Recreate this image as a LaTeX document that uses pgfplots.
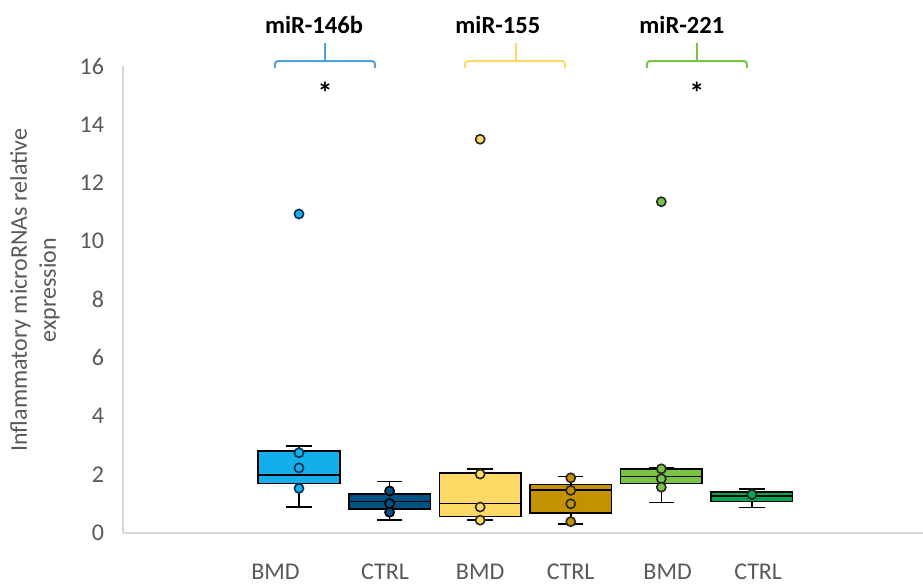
\documentclass[border=0pt]{standalone}
\usepackage{fontspec}
\setmainfont{Carlito}
\usepackage{pgfplots}
\pgfplotsset{compat=1.18}
\usepgfplotslibrary{statistics}

\definecolor{bluebmd}{RGB}{20,174,236}
\definecolor{bluectrl}{RGB}{0,82,130}
\definecolor{yelbmd}{RGB}{255,217,102}
\definecolor{yelctrl}{RGB}{196,146,0}
\definecolor{grnbmd}{RGB}{120,196,70}
\definecolor{grnctrl}{RGB}{0,166,80}
\definecolor{brblue}{RGB}{79,161,219}
\definecolor{tickgray}{RGB}{89,89,89}
\definecolor{linegray}{RGB}{217,217,217}

\begin{document}
\begin{tikzpicture}[font=\fontsize{12}{14.4}\selectfont]
\begin{axis}[
  at={(0,0)}, anchor=south west,
  scale only axis, width=400pt, height=233.5pt,
  xmin=-0.943, xmax=7.889, ymin=0, ymax=16,
  clip=false,
  axis x line=bottom, axis y line=left,
  axis line style={draw=linegray, line width=0.8pt, -},
  major tick length=0pt,
  ytick={0,2,...,16},
  xtick={0.74,1.95,3.0,4.0,5.07,6.07},
  xticklabels={BMD,CTRL,BMD,CTRL,BMD,CTRL},
  tick label style={text=tickgray},
  xticklabel style={yshift=-12pt},
  yticklabel style={xshift=-6pt},
  /pgf/number format/assume math mode=true,
  ylabel={Inflammatory microRNAs relative\\expression},
  ylabel style={at={(axis description cs:-0.11,0.52)}, anchor=center, align=center, text=tickgray},
  boxplot/draw direction=y,
  boxplot/box extend=0.9,
  boxplot/whisker extend=0.28,
  mark size=2.3pt,
]
% miR-146b BMD
\addplot[boxplot prepared={lower whisker=0.89, lower quartile=1.69, median=1.99,
  upper quartile=2.81, upper whisker=2.98, draw position=1},
  draw=black, line width=0.8pt, fill=bluebmd] coordinates {};
\addplot[only marks, mark=*, mark options={fill=bluebmd, draw=bluectrl!60!black, line width=0.8pt}]
  coordinates {(1,2.75) (1,2.23) (1,1.53) (1,10.93)};
% miR-146b CTRL
\addplot[boxplot prepared={lower whisker=0.44, lower quartile=0.83, median=1.08,
  upper quartile=1.33, upper whisker=1.77, draw position=2},
  draw=black, line width=0.8pt, fill=bluectrl] coordinates {};
\addplot[only marks, mark=*, mark options={fill=bluectrl, draw=black, line width=0.8pt}]
  coordinates {(2,1.44) (2,1.01) (2,0.71)};
% miR-155 BMD
\addplot[boxplot prepared={lower whisker=0.44, lower quartile=0.57, median=1.01,
  upper quartile=2.06, upper whisker=2.20, draw position=3},
  draw=black, line width=0.8pt, fill=yelbmd] coordinates {};
\addplot[only marks, mark=*, mark options={fill=yelbmd, draw=black!85, line width=0.8pt}]
  coordinates {(3,2.02) (3,0.89) (3,0.44) (3,13.49)};
% miR-155 CTRL
\addplot[boxplot prepared={lower whisker=0.31, lower quartile=0.69, median=1.47,
  upper quartile=1.66, upper whisker=1.93, draw position=4},
  draw=black, line width=0.8pt, fill=yelctrl] coordinates {};
\addplot[only marks, mark=*, mark options={fill=yelctrl, draw=black!85, line width=0.8pt}]
  coordinates {(4,1.89) (4,1.46) (4,1.00) (4,0.39)};
% miR-221 BMD
\addplot[boxplot prepared={lower whisker=1.05, lower quartile=1.70, median=1.93,
  upper quartile=2.19, upper whisker=2.23, draw position=5},
  draw=black, line width=0.8pt, fill=grnbmd] coordinates {};
\addplot[only marks, mark=*, mark options={fill=grnbmd, draw=black!85, line width=0.8pt}]
  coordinates {(5,2.20) (5,1.86) (5,1.57) (5,11.35)};
% miR-221 CTRL
\addplot[boxplot prepared={lower whisker=0.88, lower quartile=1.08, median=1.26,
  upper quartile=1.40, upper whisker=1.50, draw position=6},
  draw=black, line width=0.8pt, fill=grnctrl] coordinates {};
\addplot[only marks, mark=*, mark options={fill=grnctrl, draw=black!85, line width=0.8pt}]
  coordinates {(6,1.32)};

% group brackets and labels
\draw[brblue, line width=1pt, rounded corners=1.5pt]
  (axis cs:0.735,15.93) -- (axis cs:0.735,16.17) -- (axis cs:1.839,16.17) -- (axis cs:1.839,15.93);
\draw[brblue, line width=1pt] (axis cs:1.287,16.17) -- (axis cs:1.287,16.79);
\draw[yelbmd, line width=1pt, rounded corners=1.5pt]
  (axis cs:2.832,15.93) -- (axis cs:2.832,16.17) -- (axis cs:3.936,16.17) -- (axis cs:3.936,15.93);
\draw[yelbmd, line width=1pt] (axis cs:3.395,16.17) -- (axis cs:3.395,16.79);
\draw[grnbmd, line width=1pt, rounded corners=1.5pt]
  (axis cs:4.841,15.93) -- (axis cs:4.841,16.17) -- (axis cs:5.945,16.17) -- (axis cs:5.945,15.93);
\draw[grnbmd, line width=1pt] (axis cs:5.393,16.17) -- (axis cs:5.393,16.79);
\node[font=\fontsize{12.3}{14}\selectfont\bfseries] at (axis cs:1.166,17.40) {miR-146b};
\node[font=\fontsize{12.3}{14}\selectfont\bfseries] at (axis cs:3.196,17.40) {miR-155};
\node[font=\fontsize{12.3}{14}\selectfont\bfseries] at (axis cs:5.227,17.40) {miR-221};
\node[font=\fontsize{15}{16}\selectfont\bfseries] at (axis cs:1.287,15.10) {*};
\node[font=\fontsize{15}{16}\selectfont\bfseries] at (axis cs:5.393,15.10) {*};
\end{axis}
\pgfresetboundingbox
\path[use as bounding box] (-61.5pt,-26.5pt) rectangle (400pt,266.5pt);
\end{tikzpicture}
\end{document}
